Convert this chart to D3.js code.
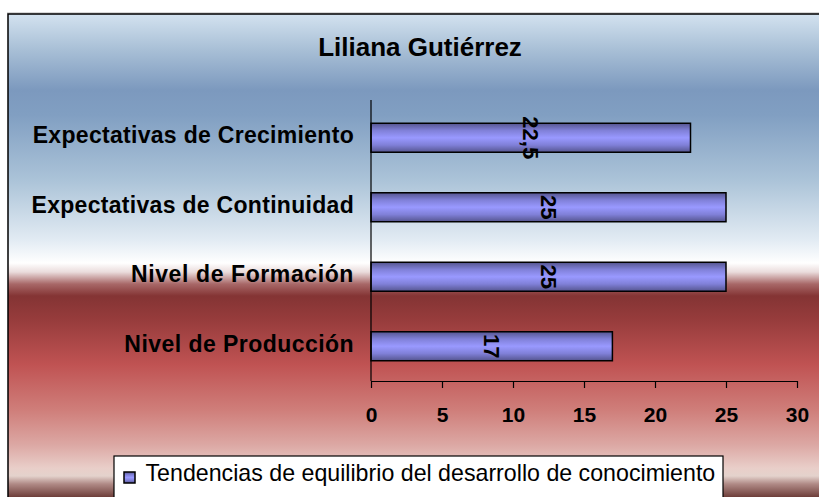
<!DOCTYPE html>
<html><head><meta charset="utf-8">
<script src="https://cdn.jsdelivr.net/npm/d3@7"></script>
<style>
html,body{margin:0;padding:0;background:#fff;}
svg{display:block;font-family:"Liberation Sans",Arial,sans-serif;}
</style></head>
<body>
<svg id="chart" width="819" height="497"></svg>
<script>
const title = "Liliana Gutiérrez";
const categories = ["Expectativas de Crecimiento","Expectativas de Continuidad","Nivel de Formación","Nivel de Producción"];
const values = [22.5, 25, 25, 17];
const valueLabels = ["22,5","25","25","17"];
const xTicks = [0,5,10,15,20,25,30];
const seriesName = "Tendencias de equilibrio del desarrollo de conocimiento";

const svg = d3.select("#chart");
const defs = svg.append("defs");

// background gradient
const bg = defs.append("linearGradient").attr("id","bg")
  .attr("gradientUnits","userSpaceOnUse").attr("x1",0).attr("y1",14).attr("x2",0).attr("y2",497);
[[14,"#d3e2ef"],[50,"#a8bfd6"],[90,"#7c99be"],[115,"#819fc2"],[180,"#abc3d8"],[240,"#e2ebf3"],[263,"#ffffff"],
 [272,"#eadcdc"],[284,"#a86868"],[296,"#843434"],[320,"#973c3c"],[365,"#c05353"],[410,"#cf7e7a"],
 [445,"#dca8a4"],[468,"#e9cec9"],[476,"#e4d2cc"],[484,"#b08a86"],[497,"#6e3e3a"]]
 .forEach(([y,c])=>bg.append("stop").attr("offset",((y-14)/(497-14))).attr("stop-color",c));

// bar gradient
const bgBar = defs.append("linearGradient").attr("id","bar").attr("x1",0).attr("y1",0).attr("x2",0).attr("y2",1);
[[0,"#55558f"],[0.25,"#8080d8"],[0.5,"#9999ff"],[0.75,"#8080d8"],[1,"#55558f"]]
 .forEach(([o,c])=>bgBar.append("stop").attr("offset",o).attr("stop-color",c));

// chart frame
svg.append("line").attr("x1",7).attr("x2",819).attr("y1",13).attr("y2",13).attr("stroke","#b0b0b0").attr("stroke-width",1);
svg.append("rect").attr("x",8).attr("y",14).attr("width",830).attr("height",500)
  .attr("fill","url(#bg)").attr("stroke","#000").attr("stroke-width",1.5);

// title
svg.append("text").attr("x",420).attr("y",56).attr("text-anchor","middle")
  .attr("font-size",26).attr("font-weight","bold").attr("fill","#000").text(title);

const x = d3.scaleLinear().domain([0,30]).range([371,797]);
const y = d3.scaleBand().domain(categories).range([103,381]).paddingInner(0.583).paddingOuter(0.2915);

// bars
svg.selectAll("rect.bar").data(categories).join("rect").attr("class","bar")
  .attr("x",x(0)).attr("y",d=>y(d)).attr("height",y.bandwidth())
  .attr("width",(d,i)=>x(values[i])-x(0))
  .attr("fill","url(#bar)").attr("stroke","#000").attr("stroke-width",1.5);

// value labels rotated
svg.selectAll("text.val").data(categories).join("text").attr("class","val")
  .attr("transform",(d,i)=>`translate(${(x(0)+x(values[i]))/2},${y(d)+y.bandwidth()/2}) rotate(90)`)
  .attr("text-anchor","middle").attr("dy","0.36em")
  .attr("font-size",22).attr("font-weight","bold").text((d,i)=>valueLabels[i]);

// y axis
const yAxis = svg.append("g").attr("transform",`translate(${x(0)},0)`)
  .call(d3.axisLeft(y).tickSize(0).tickPadding(17));
yAxis.select(".domain").attr("d",`M0,100V381`).attr("stroke","#000").attr("stroke-width",1.2);
const spacing = ["0.3px","0.3px","0.6px","0.45px"];
yAxis.selectAll("text").attr("font-size",23).attr("font-weight","bold").attr("fill","#000")
  .attr("font-family","Liberation Sans, Arial, sans-serif").attr("letter-spacing",(d,i)=>spacing[i])
  .attr("dy",null).attr("y",5.5).attr("dominant-baseline","auto");

// x axis
const xAxis = svg.append("g").attr("transform","translate(0,381)")
  .call(d3.axisBottom(x).tickValues(xTicks).tickSize(7).tickSizeOuter(0).tickPadding(16).tickFormat(d3.format("d")));
xAxis.select(".domain").attr("stroke","#000").attr("stroke-width",1.2);
xAxis.selectAll(".tick line").attr("stroke","#000").attr("stroke-width",1.2);
xAxis.selectAll("text").attr("font-size",21).attr("font-weight","bold").attr("fill","#000")
  .attr("font-family","Liberation Sans, Arial, sans-serif")
  .attr("dy",null).attr("y",41);

// legend
const lg = svg.append("g");
lg.append("rect").attr("x",114).attr("y",456).attr("width",609).attr("height",60)
  .attr("fill","#fff").attr("stroke","#000").attr("stroke-width",1.2);
lg.append("rect").attr("x",124).attr("y",472).attr("width",11).attr("height",11)
  .attr("fill","url(#bar)").attr("stroke","#000").attr("stroke-width",1.5);
lg.append("text").attr("x",145.5).attr("y",481).attr("font-size",23.2).attr("fill","#000").text(seriesName);
</script>
</body></html>
